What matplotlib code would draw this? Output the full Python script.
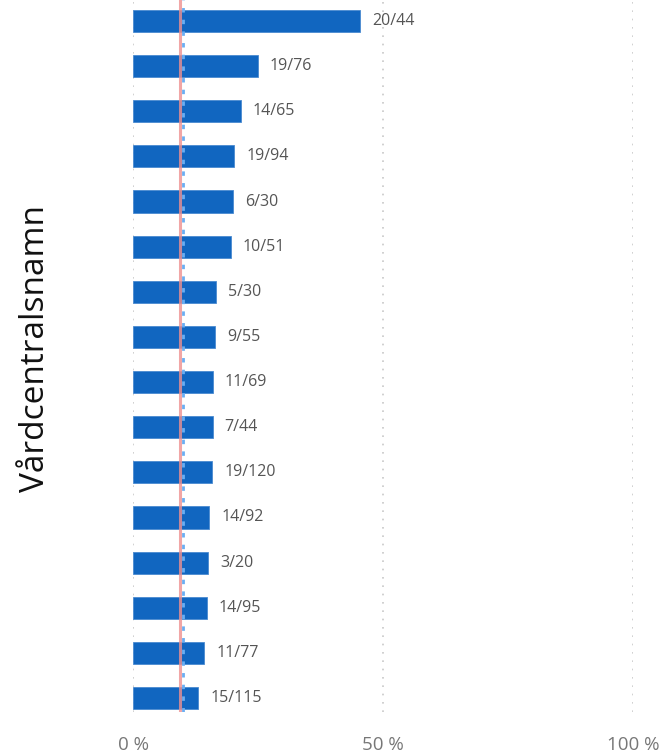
import matplotlib.pyplot as plt
import numpy as np

# numerator / denominator per vårdcentral (names hidden in the original)
numer = [20, 19, 14, 19, 6, 10, 5, 9, 11, 7, 19, 14, 3, 14, 11, 15]
denom = [44, 76, 65, 94, 30, 51, 30, 55, 69, 44, 120, 92, 20, 95, 77, 115]
ref_red = 9.4   # reference line (solid, red)
ref_blue = 9.9  # comparison line (dashed, blue)
xticks = [0, 50, 100]

pct = [100 * n / d for n, d in zip(numer, denom)]
labels = [f"{n}/{d}" for n, d in zip(numer, denom)]
pos = np.arange(len(pct))

plt.rcParams['font.family'] = ['Open Sans', 'DejaVu Sans']

fig = plt.figure(figsize=(6.61, 7.55), dpi=100)
ax = fig.add_axes([133 / 661, 1 - 712 / 755, 500 / 661, 712 / 755])

for xv in xticks:
    ax.axvline(xv, color='#c8c8c8', lw=1.2, ls=(0, (1, 4)), zorder=0)

ax.barh(pos, pct, height=0.49, color='#1166c0', edgecolor='#4a8ad0', lw=0.6, zorder=2)
for p, v, t in zip(pos, pct, labels):
    ax.text(v + 2.4, p, t, va='center', ha='left', fontsize=11.5, color='#555555')

ax.axvline(ref_red, color='#ee9090', lw=2.2, alpha=0.8, zorder=3)
ax.axvline(ref_blue, color='#6aaef2', lw=2.0, ls=(0, (1.6, 2.6)), zorder=4)

ax.set_xlim(0, 100)
ax.set_ylim(15.31, -0.465)
ax.set_xticks(xticks)
ax.set_xticklabels([f"{x} %" for x in xticks], fontsize=13.5, color='#777777')
ax.set_yticks([])
ax.tick_params(axis='x', length=0, pad=17)
for s in ax.spines.values():
    s.set_visible(False)

fig.text(36 / 661, 1 - 348 / 755, 'Vårdcentralsnamn', rotation=90, ha='center', va='center',
         fontsize=24, color='#111111')

fig.savefig('out.png', dpi=100)
